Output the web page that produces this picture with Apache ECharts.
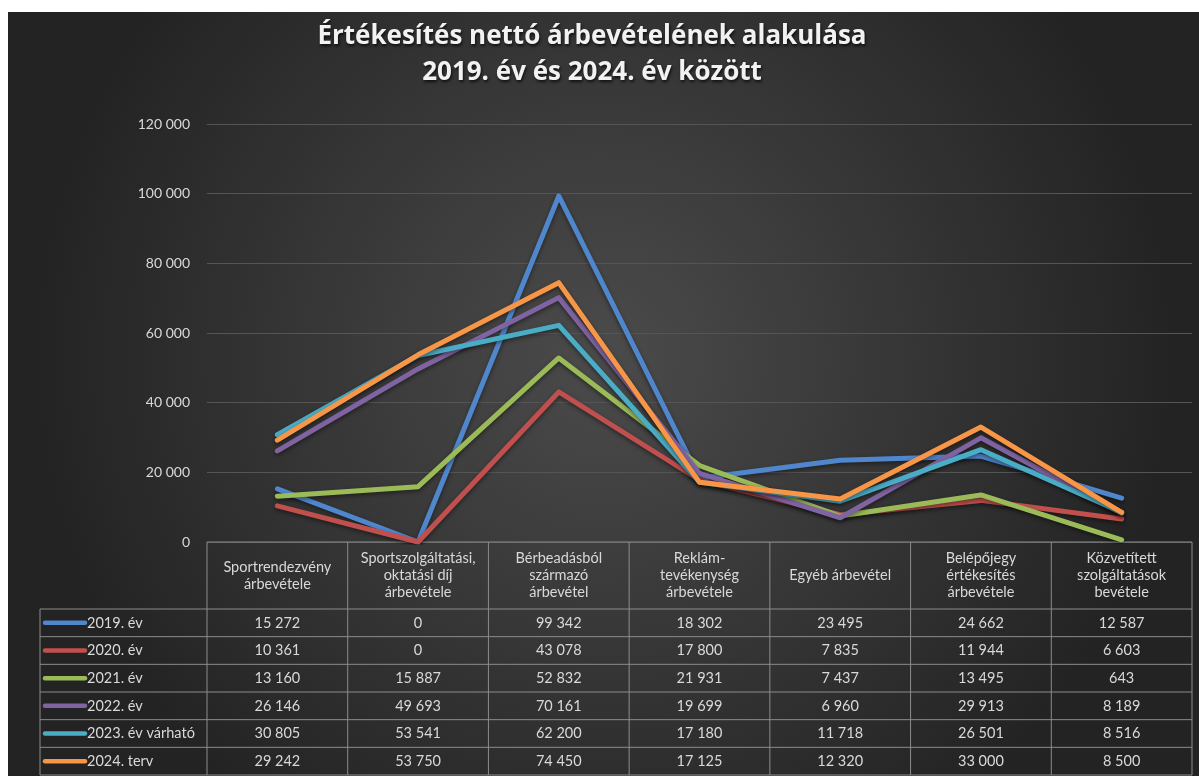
<!DOCTYPE html>
<html>
<head>
<meta charset="utf-8">
<script src="https://cdn.jsdelivr.net/npm/echarts@6/dist/echarts.min.js"></script>
<style>
  html, body { margin: 0; padding: 0; background: #ffffff; }
  #chart { position: absolute; left: 8px; top: 12px; width: 1191px; height: 764px; }
</style>
</head>
<body>
<div id="chart"></div>
<script>
// kategóriák (fejléc sorai)
var categories = [
  'Sportrendezvény\nárbevétele',
  'Sportszolgáltatási,\noktatási díj\nárbevétele',
  'Bérbeadásból\nszármazó\nárbevétel',
  'Reklám-\ntevékenység\nárbevétele',
  'Egyéb árbevétel',
  'Belépőjegy\nértékesítés\nárbevétele',
  'Közvetített\nszolgáltatások\nbevétele'
];
var seriesNames = ['2019. év', '2020. év', '2021. év', '2022. év', '2023. év várható', '2024. terv'];
var v2019 = [15272, 0, 99342, 18302, 23495, 24662, 12587];
var v2020 = [10361, 0, 43078, 17800, 7835, 11944, 6603];
var v2021 = [13160, 15887, 52832, 21931, 7437, 13495, 643];
var v2022 = [26146, 49693, 70161, 19699, 6960, 29913, 8189];
var v2023 = [30805, 53541, 62200, 17180, 11718, 26501, 8516];
var v2024 = [29242, 53750, 74450, 17125, 12320, 33000, 8500];
var yTicks = [0, 20000, 40000, 60000, 80000, 100000, 120000];

var seriesValues = [v2019, v2020, v2021, v2022, v2023, v2024];
var colors = ['#4f86cc', '#c0504d', '#9bbb59', '#8064a2', '#4bacc6', '#f79646'];
var textColor = '#d9d9d9';
var lineColor = '#8c8c8c';
var fontFam = 'Lato, "Open Sans", sans-serif';

function fmt(n) {
  return String(n).replace(/\B(?=(\d{3})+(?!\d))/g, ' ');
}

var chart = echarts.init(document.getElementById('chart'));

var series = seriesValues.map(function (vals, i) {
  return {
    name: seriesNames[i],
    type: 'line',
    data: vals,
    symbol: 'none',
    lineStyle: {
      color: colors[i],
      width: 5,
      cap: 'round',
      join: 'round',
      shadowColor: 'rgba(0,0,0,0.45)',
      shadowBlur: 4,
      shadowOffsetY: 2
    },
    itemStyle: { color: colors[i] },
    animation: false
  };
});

chart.setOption({
  backgroundColor: {
    type: 'radial', x: 0.5, y: 0.45, r: 0.75,
    colorStops: [
      { offset: 0, color: '#4b4b4b' },
      { offset: 1, color: '#232323' }
    ]
  },
  title: {
    text: 'Értékesítés nettó árbevételének alakulása\n2019. év és 2024. év között',
    left: 579,
    top: 2,
    textAlign: 'center',
    textStyle: {
      color: '#f2f2f2',
      fontFamily: '"Open Sans", sans-serif',
      fontWeight: 'bold',
      fontSize: 26,
      lineHeight: 36,
      textShadowColor: 'rgba(0,0,0,0.7)',
      textShadowBlur: 3,
      textShadowOffsetX: 1,
      textShadowOffsetY: 2
    }
  },
  grid: { left: 199, right: 7, top: 112, bottom: 234 },
  xAxis: {
    type: 'category',
    data: categories,
    boundaryGap: true,
    axisLine: { show: false },
    axisTick: { show: false },
    axisLabel: { show: false }
  },
  yAxis: {
    type: 'value',
    min: yTicks[0],
    max: yTicks[yTicks.length - 1],
    interval: yTicks[1] - yTicks[0],
    axisLine: { show: false },
    axisTick: { show: false },
    splitLine: { lineStyle: { color: '#555555', width: 1 } },
    axisLabel: {
      color: textColor,
      fontFamily: fontFam,
      fontSize: 14,
      margin: 17,
      formatter: function (v) { return fmt(v); }
    }
  },
  series: series
});

// adattábla a tengely alatt
function drawTable() {
  var gridBottom = 764 - 234;
  var headerBottom = 597;
  var rowH = (763 - headerBottom) / seriesNames.length;
  var leftX = 32;
  var centers = categories.map(function (c, i) {
    return chart.convertToPixel({ xAxisIndex: 0 }, i);
  });
  var colW = centers.length > 1 ? centers[1] - centers[0] : 140;
  var x0 = centers[0] - colW / 2;
  var x1 = centers[centers.length - 1] + colW / 2;
  var els = [];
  var ls = { stroke: lineColor, lineWidth: 1 };
  var font = '14.5px ' + fontFam;

  // vízszintes vonalak
  els.push({ type: 'line', shape: { x1: x0, y1: gridBottom, x2: x1, y2: gridBottom }, style: ls, silent: true });
  for (var r = 0; r <= seriesNames.length; r++) {
    var y = headerBottom + r * rowH;
    els.push({ type: 'line', shape: { x1: leftX, y1: y, x2: x1, y2: y }, style: ls, silent: true });
  }
  // függőleges vonalak
  els.push({ type: 'line', shape: { x1: leftX, y1: headerBottom, x2: leftX, y2: 763 }, style: ls, silent: true });
  for (var c = 0; c <= centers.length; c++) {
    var x = x0 + c * colW;
    els.push({ type: 'line', shape: { x1: x, y1: gridBottom, x2: x, y2: 763 }, style: ls, silent: true });
  }
  // fejléc
  centers.forEach(function (cx, i) {
    els.push({
      type: 'text', x: cx, y: (gridBottom + headerBottom) / 2, silent: true,
      style: {
        text: categories[i], fill: textColor, font: font,
        align: 'center', verticalAlign: 'middle', lineHeight: 17
      }
    });
  });
  // sorok
  seriesNames.forEach(function (name, r) {
    var cy = headerBottom + r * rowH + rowH / 2;
    els.push({
      type: 'line', shape: { x1: leftX + 5, y1: cy, x2: leftX + 45, y2: cy }, silent: true,
      style: { stroke: colors[r], lineWidth: 4.5, lineCap: 'round' }
    });
    els.push({
      type: 'text', x: leftX + 47, y: cy, silent: true,
      style: { text: name, fill: textColor, font: font, align: 'left', verticalAlign: 'middle' }
    });
    seriesValues[r].forEach(function (v, i) {
      els.push({
        type: 'text', x: centers[i], y: cy, silent: true,
        style: { text: fmt(v), fill: textColor, font: font, align: 'center', verticalAlign: 'middle' }
      });
    });
  });
  chart.setOption({ graphic: { elements: els } });
}
drawTable();
</script>
</body>
</html>
